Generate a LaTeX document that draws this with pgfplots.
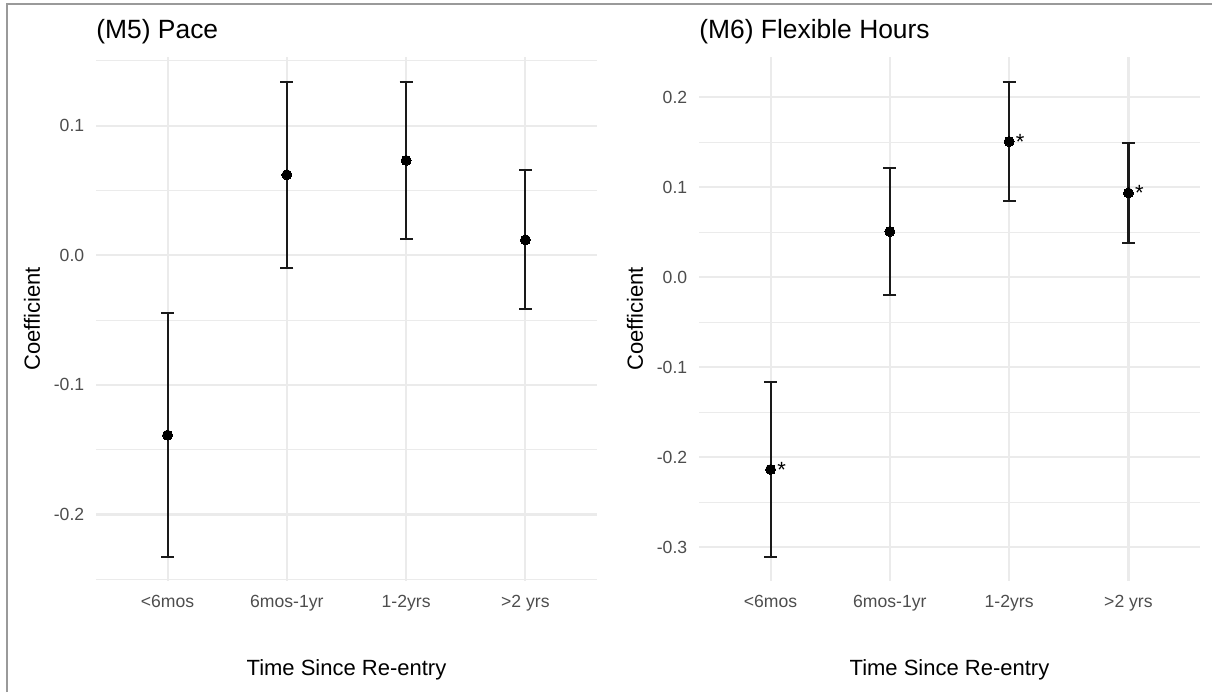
\documentclass[border=0pt]{standalone}
\usepackage{fontspec}
\setmainfont{Liberation Sans}
\usepackage{pgfplots}
\pgfplotsset{compat=1.18}
\definecolor{gridc}{HTML}{EBEBEB}
\definecolor{tickc}{HTML}{4D4D4D}
\definecolor{framec}{HTML}{9A9A9A}
\definecolor{barc}{HTML}{1A1A1A}

\pgfplotsset{
  every axis title shift=0pt,
  coefstyle/.style={
    scale only axis, width=250.5pt, height=261.5pt,
    xmin=0.4, xmax=4.6,
    xtick={1,2,3,4},
    xticklabels={<6mos,6mos-1yr,1-2yrs,>2 yrs},
    axis line style={draw=none},
    major tick length=0pt, minor tick length=0pt,
    tick style={draw=none},
    xmajorgrids, ymajorgrids, yminorgrids,
    major grid style={gridc, line width=1.07pt},
    minor grid style={gridc, line width=0.53pt},
    tick label style={font=\fontsize{8.8}{10}\selectfont, text=tickc},
    xticklabel style={anchor=north, inner sep=0pt, yshift=-7.2pt},
    yticklabel style={anchor=east, inner sep=0pt, xshift=-5.7pt},
    label style={font=\fontsize{11}{13}\selectfont},
    xlabel={Time Since Re-entry},
    ylabel={Coefficient},
    xlabel style={at={(axis description cs:0.5,-0.1807)}, anchor=base},
    ylabel style={at={(axis description cs:-0.1118,0.5)}, anchor=base},
    title style={at={(axis description cs:0,1)}, anchor=base west, yshift=9.25pt,
      font=\fontsize{13.2}{15}\selectfont, inner sep=0pt},
    clip=false,
  },
  coefplot/.style={
    only marks, mark=*, mark size=2.5pt,
    mark options={fill=black, draw=black, line width=0pt},
    error bars/.cd, y dir=both, y explicit,
    error bar style={line width=1.07pt, barc},
    error mark options={barc, line width=1.07pt, mark size=3.2pt, rotate=90},
  },
  starplot/.style={
    draw=none, mark=none,
    nodes near coords={*},
    every node near coord/.append style={anchor=base, xshift=5.5pt, yshift=-3.8pt,
      font=\fontsize{11}{13}\selectfont, text=black, inner sep=0pt},
  },
}

\begin{document}
\begin{tikzpicture}
\useasboundingbox (0,0) rectangle (606pt,346pt);
\draw[framec, line width=1pt] (3.4pt,0) -- (3.4pt,344.2pt) -- (606pt,344.2pt);

\begin{axis}[coefstyle,
  at={(48pt,55.75pt)}, anchor=south west,
  title={(M5) Pace},
  ymin=-0.2509, ymax=0.1526,
  ytick={-0.2,-0.1,0,0.1},
  yticklabels={-0.2,-0.1,0.0,0.1},
  minor ytick={-0.25,-0.15,-0.05,0.05,0.15},
]
\addplot[coefplot] coordinates {
  (1,-0.1387) +- (0,0.0941)
  (2,0.0621) +- (0,0.0717)
  (3,0.0732) +- (0,0.0603)
  (4,0.0119) +- (0,0.0536)
};
\end{axis}

\begin{axis}[coefstyle,
  at={(349.5pt,55.75pt)}, anchor=south west,
  title={(M6) Flexible Hours},
  ymin=-0.3368, ymax=0.2442,
  ytick={-0.3,-0.2,-0.1,0,0.1,0.2},
  yticklabels={-0.3,-0.2,-0.1,0.0,0.1,0.2},
  minor ytick={-0.25,-0.15,-0.05,0.05,0.15},
]
\addplot[coefplot] coordinates {
  (1,-0.2135) +- (0,0.0972)
  (2,0.0509) +- (0,0.0707)
  (3,0.1509) +- (0,0.0663)
  (4,0.0937) +- (0,0.0553)
};
\addplot[starplot] coordinates {
  (1,-0.2135)
  (3,0.1509)
  (4,0.0937)
};
\end{axis}
\end{tikzpicture}
\end{document}
